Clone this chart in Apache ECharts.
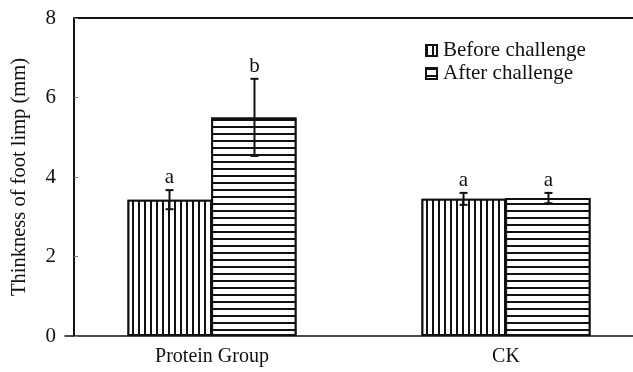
<!DOCTYPE html>
<html>
<head>
<meta charset="utf-8">
<script src="https://cdn.jsdelivr.net/npm/echarts@6/dist/echarts.min.js"></script>
<style>
    html, body { margin: 0; padding: 0; background: #fff; }
    #chart { width: 633px; height: 372px; }
</style>
</head>
<body>
<div id="chart"></div>
<script>
    /* ---------- data ---------- */
    var categories = ['Protein Group', 'CK'];
    var beforeMean = [3.43, 3.45];
    var beforeErr = [0.24, 0.15];
    var beforeLetter = ['a', 'a'];
    var afterMean = [5.50, 3.47];
    var afterErr = [0.97, 0.13];
    var afterLetter = ['b', 'a'];
    var yTicks = [0, 2, 4, 6, 8];

    var serif = 'Liberation Serif';
    var ink = '#111';
    var barShare = 0.289; // each bar as part of the category band

    var vStripes = {
        symbol: 'rect', symbolSize: 1, color: ink, backgroundColor: '#fff',
        dashArrayX: [1.6, 3.7], dashArrayY: [1, 0]
    };
    var hStripes = {
        symbol: 'rect', symbolSize: 1, color: ink, backgroundColor: '#fff',
        dashArrayX: [1, 0], dashArrayY: [1.6, 4.5]
    };

    // error bars + significance letters
    function errorSeries(name, means, errs, letters, side) {
        return {
            type: 'custom',
            name: name,
            z: 5,
            data: means.map(function (m, i) { return [i, m, errs[i], letters[i]]; }),
            renderItem: function (params, api) {
                var band = api.size([1, 0])[0];
                var dx = side * band * barShare / 2;
                var hi = api.coord([api.value(0), api.value(1) + api.value(2)]);
                var lo = api.coord([api.value(0), api.value(1) - api.value(2)]);
                var x = hi[0] + dx;
                var style = { stroke: ink, lineWidth: 2 };
                return {
                    type: 'group',
                    children: [
                        { type: 'line', shape: { x1: x, y1: hi[1], x2: x, y2: lo[1] }, style: style },
                        { type: 'line', shape: { x1: x - 4, y1: hi[1], x2: x + 4, y2: hi[1] }, style: style },
                        { type: 'line', shape: { x1: x - 4, y1: lo[1], x2: x + 4, y2: lo[1] }, style: style },
                        {
                            type: 'text',
                            style: {
                                text: letters[params.dataIndex], x: x, y: hi[1] - 2,
                                align: 'center', verticalAlign: 'bottom',
                                fill: ink, font: '21px "' + serif + '"'
                            }
                        }
                    ]
                };
            }
        };
    }

    var chart = echarts.init(document.getElementById('chart'));

    var option = {
        animation: false,
        backgroundColor: '#fff',
        grid: { left: 65, width: 588, top: 18, bottom: 36, outerBoundsMode: 'none', containLabel: false },
        legend: {
            data: ['Before challenge', 'After challenge'],
            orient: 'vertical',
            icon: 'rect',
            left: 420,
            top: 35,
            itemWidth: 11,
            itemHeight: 11,
            itemGap: 2,
            textStyle: { fontFamily: serif, fontSize: 21, color: ink, padding: [0, 0, 0, 1] }
        },
        graphic: [{
            type: 'line',
            shape: { x1: 74, y1: 18, x2: 633, y2: 18 },
            style: { stroke: ink, lineWidth: 2 }
        }],
        xAxis: {
            type: 'category',
            data: categories,
            axisLine: { lineStyle: { color: ink, width: 1.5 } },
            axisTick: {
                inside: true, length: 4,
                interval: function (i) { return i === 1; },
                lineStyle: { color: '#777' }
            },
            axisLabel: { fontFamily: serif, fontSize: 20, color: ink, margin: 11 }
        },
        yAxis: {
            type: 'value',
            min: yTicks[0],
            max: yTicks[yTicks.length - 1],
            interval: 2,
            offset: -9,
            name: 'Thinkness of foot limp (mm)',
            nameLocation: 'middle',
            nameGap: 44,
            nameTextStyle: { fontFamily: serif, fontSize: 20.5, color: ink },
            axisLine: { show: true, lineStyle: { color: ink, width: 2 } },
            axisTick: { show: true, inside: true, length: 4, lineStyle: { color: '#777' } },
            splitLine: { show: false },
            axisLabel: { fontFamily: serif, fontSize: 21, color: ink, margin: 18 }
        },
        series: [
            {
                name: 'Before challenge',
                type: 'bar',
                data: beforeMean,
                barGap: '-2%',
                barCategoryGap: '42.5%',
                itemStyle: { color: '#fff', borderColor: ink, borderWidth: 2, decal: vStripes }
            },
            {
                name: 'After challenge',
                type: 'bar',
                data: afterMean,
                itemStyle: { color: '#fff', borderColor: ink, borderWidth: 2, decal: hStripes }
            },
            errorSeries('errBefore', beforeMean, beforeErr, beforeLetter, -1),
            errorSeries('errAfter', afterMean, afterErr, afterLetter, 1)
        ]
    };

    chart.setOption(option);
</script>
</body>
</html>
